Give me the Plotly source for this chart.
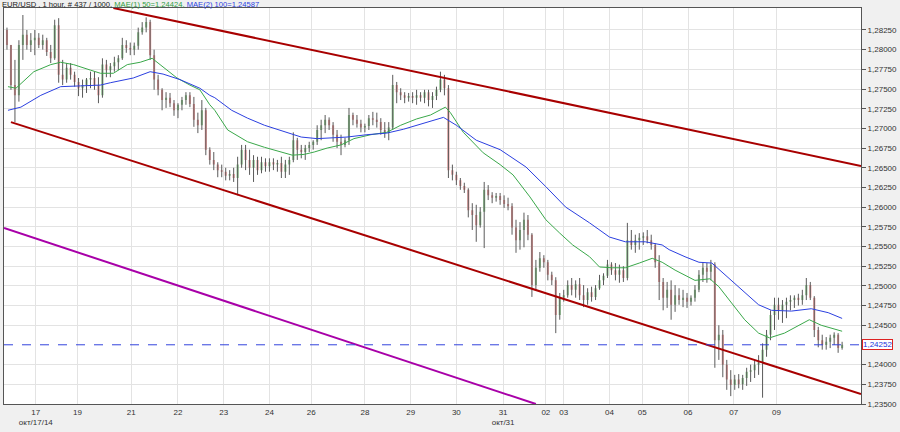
import plotly.graph_objects as go

# ---------------- data ----------------
opens = [1.2825, 1.2806, 1.2755, 1.2742, 1.2806, 1.2819, 1.2806, 1.2812, 1.2815, 1.2806,
         1.2812, 1.2797, 1.2789, 1.2831, 1.2768, 1.2762, 1.2777, 1.2768, 1.2759, 1.2751,
         1.2755, 1.2762, 1.2764, 1.2755, 1.2742, 1.2781, 1.2774, 1.2779, 1.2784, 1.2789,
         1.2806, 1.2802, 1.2800, 1.2805, 1.2822, 1.2828, 1.2835, 1.2793, 1.2762, 1.2749,
         1.2736, 1.2739, 1.2732, 1.2723, 1.2730, 1.2736, 1.2742, 1.2731, 1.2711, 1.2704,
         1.2723, 1.2673, 1.2660, 1.2654, 1.2647, 1.2645, 1.2640, 1.2642, 1.2637, 1.2654,
         1.2673, 1.2660, 1.2650, 1.2660, 1.2647, 1.2657, 1.2652, 1.2657, 1.2654, 1.2656,
         1.2645, 1.2654, 1.2660, 1.2685, 1.2673, 1.2670, 1.2675, 1.2679, 1.2683, 1.2698,
         1.2704, 1.2711, 1.2704, 1.2692, 1.2683, 1.2679, 1.2685, 1.2717, 1.2711, 1.2706,
         1.2701, 1.2703, 1.2713, 1.2711, 1.2708, 1.2698, 1.2694, 1.2701, 1.2755, 1.2746,
         1.2742, 1.2739, 1.2741, 1.2739, 1.2742, 1.2739, 1.2746, 1.2736, 1.2741, 1.2749,
         1.2762, 1.2751, 1.2647, 1.2641, 1.2634, 1.2627, 1.2622, 1.2596, 1.2590, 1.2577,
         1.2594, 1.2622, 1.2615, 1.2612, 1.2614, 1.2609, 1.2604, 1.2601, 1.2574, 1.2558,
         1.2571, 1.2584, 1.2565, 1.2501, 1.2523, 1.2535, 1.2530, 1.2514, 1.2507, 1.2463,
         1.2485, 1.2488, 1.2501, 1.2495, 1.2502, 1.2488, 1.2482, 1.2492, 1.2486, 1.2497,
         1.2507, 1.2513, 1.2527, 1.2520, 1.2514, 1.2520, 1.2510, 1.2558, 1.2552, 1.2558,
         1.2561, 1.2563, 1.2558, 1.2552, 1.2530, 1.2505, 1.2485, 1.2495, 1.2476, 1.2488,
         1.2482, 1.2485, 1.2480, 1.2485, 1.2495, 1.2514, 1.2523, 1.2518, 1.2527, 1.2431,
         1.2438, 1.2400, 1.2381, 1.2374, 1.2381, 1.2375, 1.2383, 1.2391, 1.2393, 1.2400,
         1.2403, 1.2419, 1.2438, 1.2463, 1.2476, 1.2469, 1.2476, 1.2480, 1.2482, 1.2485,
         1.2482, 1.2488, 1.2501, 1.2485, 1.2444, 1.2431, 1.2425, 1.2429, 1.2434, 1.2438, 1.2421]

highs = [1.2828, 1.2806, 1.2787, 1.2812, 1.2844, 1.2825, 1.2821, 1.2825, 1.2821, 1.2819,
         1.2815, 1.2806, 1.2838, 1.2840, 1.2787, 1.2783, 1.2783, 1.2772, 1.2764, 1.2762,
         1.2764, 1.2772, 1.2772, 1.2765, 1.2789, 1.2787, 1.2783, 1.2791, 1.2793, 1.2815,
         1.2812, 1.2809, 1.2809, 1.2828, 1.2835, 1.2841, 1.2838, 1.2800, 1.2768, 1.2751,
         1.2746, 1.2745, 1.2736, 1.2732, 1.2740, 1.2746, 1.2746, 1.2740, 1.2720, 1.2736,
         1.2726, 1.2676, 1.2670, 1.2657, 1.2654, 1.2650, 1.2647, 1.2650, 1.2664, 1.2679,
         1.2679, 1.2673, 1.2666, 1.2664, 1.2664, 1.2662, 1.2662, 1.2662, 1.2660, 1.2664,
         1.2660, 1.2664, 1.2695, 1.2688, 1.2679, 1.2679, 1.2683, 1.2685, 1.2704, 1.2711,
         1.2717, 1.2714, 1.2708, 1.2698, 1.2692, 1.2688, 1.2726, 1.2720, 1.2717, 1.2711,
         1.2706, 1.2717, 1.2721, 1.2720, 1.2713, 1.2708, 1.2708, 1.2768, 1.2759, 1.2751,
         1.2746, 1.2745, 1.2746, 1.2749, 1.2746, 1.2749, 1.2749, 1.2746, 1.2753, 1.2772,
         1.2768, 1.2755, 1.2654, 1.2645, 1.2637, 1.2631, 1.2624, 1.2605, 1.2603, 1.2600,
         1.2632, 1.2628, 1.2619, 1.2618, 1.2618, 1.2615, 1.2612, 1.2605, 1.2584, 1.2581,
         1.2593, 1.2590, 1.2567, 1.2533, 1.2543, 1.2539, 1.2533, 1.2518, 1.2511, 1.2491,
         1.2495, 1.2507, 1.2510, 1.2507, 1.2510, 1.2501, 1.2497, 1.2499, 1.2501, 1.2514,
         1.2516, 1.2533, 1.2530, 1.2529, 1.2527, 1.2525, 1.2580, 1.2571, 1.2565, 1.2567,
         1.2568, 1.2571, 1.2565, 1.2554, 1.2539, 1.2510, 1.2505, 1.2507, 1.2501, 1.2497,
         1.2495, 1.2491, 1.2488, 1.2501, 1.2520, 1.2530, 1.2529, 1.2533, 1.2530, 1.2450,
         1.2444, 1.2406, 1.2393, 1.2387, 1.2388, 1.2387, 1.2396, 1.2400, 1.2406, 1.2412,
         1.2427, 1.2444, 1.2469, 1.2485, 1.2485, 1.2482, 1.2485, 1.2488, 1.2488, 1.2490,
         1.2495, 1.2510, 1.2505, 1.2487, 1.2448, 1.2438, 1.2435, 1.2438, 1.2441, 1.2440, 1.2429]

lows = [1.2800, 1.2749, 1.2708, 1.2734, 1.2787, 1.2800, 1.2797, 1.2793, 1.2802, 1.2800,
        1.2792, 1.2783, 1.2787, 1.2758, 1.2755, 1.2758, 1.2762, 1.2753, 1.2741, 1.2739,
        1.2745, 1.2751, 1.2749, 1.2732, 1.2739, 1.2765, 1.2765, 1.2772, 1.2774, 1.2787,
        1.2796, 1.2793, 1.2793, 1.2800, 1.2819, 1.2822, 1.2787, 1.2749, 1.2742, 1.2723,
        1.2726, 1.2727, 1.2716, 1.2713, 1.2723, 1.2730, 1.2727, 1.2702, 1.2694, 1.2698,
        1.2666, 1.2654, 1.2647, 1.2638, 1.2638, 1.2634, 1.2634, 1.2632, 1.2615, 1.2650,
        1.2647, 1.2641, 1.2632, 1.2641, 1.2643, 1.2645, 1.2645, 1.2647, 1.2645, 1.2637,
        1.2637, 1.2641, 1.2657, 1.2660, 1.2662, 1.2660, 1.2670, 1.2673, 1.2679, 1.2685,
        1.2694, 1.2698, 1.2683, 1.2675, 1.2666, 1.2676, 1.2679, 1.2704, 1.2701, 1.2695,
        1.2695, 1.2698, 1.2704, 1.2701, 1.2692, 1.2688, 1.2685, 1.2698, 1.2732, 1.2736,
        1.2732, 1.2734, 1.2732, 1.2730, 1.2734, 1.2732, 1.2728, 1.2726, 1.2736, 1.2746,
        1.2742, 1.2637, 1.2634, 1.2628, 1.2622, 1.2618, 1.2587, 1.2571, 1.2556, 1.2574,
        1.2548, 1.2609, 1.2605, 1.2607, 1.2603, 1.2599, 1.2596, 1.2565, 1.2542, 1.2546,
        1.2549, 1.2558, 1.2486, 1.2495, 1.2518, 1.2523, 1.2507, 1.2501, 1.2440, 1.2457,
        1.2480, 1.2485, 1.2488, 1.2485, 1.2482, 1.2473, 1.2476, 1.2480, 1.2482, 1.2495,
        1.2501, 1.2510, 1.2514, 1.2507, 1.2504, 1.2505, 1.2507, 1.2546, 1.2542, 1.2546,
        1.2552, 1.2554, 1.2546, 1.2523, 1.2482, 1.2469, 1.2472, 1.2457, 1.2467, 1.2476,
        1.2473, 1.2472, 1.2475, 1.2480, 1.2492, 1.2505, 1.2504, 1.2507, 1.2396, 1.2406,
        1.2384, 1.2368, 1.2360, 1.2368, 1.2370, 1.2368, 1.2373, 1.2378, 1.2383, 1.2387,
        1.2358, 1.2410, 1.2431, 1.2444, 1.2457, 1.2453, 1.2459, 1.2469, 1.2472, 1.2475,
        1.2476, 1.2482, 1.2482, 1.2435, 1.2422, 1.2419, 1.2419, 1.2421, 1.2425, 1.2415, 1.2419]

closes = [1.2806, 1.2755, 1.2742, 1.2806, 1.2819, 1.2806, 1.2812, 1.2815, 1.2806, 1.2812,
          1.2797, 1.2789, 1.2831, 1.2768, 1.2762, 1.2777, 1.2768, 1.2759, 1.2751, 1.2755,
          1.2762, 1.2764, 1.2755, 1.2742, 1.2781, 1.2774, 1.2779, 1.2784, 1.2789, 1.2806,
          1.2802, 1.2800, 1.2805, 1.2822, 1.2828, 1.2835, 1.2793, 1.2762, 1.2749, 1.2736,
          1.2739, 1.2732, 1.2723, 1.2730, 1.2736, 1.2742, 1.2731, 1.2711, 1.2704, 1.2723,
          1.2673, 1.2660, 1.2654, 1.2647, 1.2645, 1.2640, 1.2642, 1.2637, 1.2654, 1.2673,
          1.2660, 1.2650, 1.2660, 1.2647, 1.2657, 1.2652, 1.2657, 1.2654, 1.2656, 1.2645,
          1.2654, 1.2660, 1.2685, 1.2673, 1.2670, 1.2675, 1.2679, 1.2683, 1.2698, 1.2704,
          1.2711, 1.2704, 1.2692, 1.2683, 1.2679, 1.2685, 1.2717, 1.2711, 1.2706, 1.2701,
          1.2703, 1.2713, 1.2711, 1.2708, 1.2698, 1.2694, 1.2701, 1.2755, 1.2746, 1.2742,
          1.2739, 1.2741, 1.2739, 1.2742, 1.2739, 1.2746, 1.2736, 1.2741, 1.2749, 1.2762,
          1.2751, 1.2647, 1.2641, 1.2634, 1.2627, 1.2622, 1.2596, 1.2590, 1.2577, 1.2594,
          1.2622, 1.2615, 1.2612, 1.2614, 1.2609, 1.2604, 1.2601, 1.2574, 1.2558, 1.2571,
          1.2584, 1.2565, 1.2501, 1.2523, 1.2535, 1.2530, 1.2514, 1.2507, 1.2463, 1.2485,
          1.2488, 1.2501, 1.2495, 1.2502, 1.2488, 1.2482, 1.2492, 1.2486, 1.2497, 1.2507,
          1.2513, 1.2527, 1.2520, 1.2514, 1.2520, 1.2510, 1.2558, 1.2552, 1.2558, 1.2561,
          1.2563, 1.2558, 1.2552, 1.2530, 1.2505, 1.2485, 1.2495, 1.2476, 1.2488, 1.2482,
          1.2485, 1.2480, 1.2485, 1.2495, 1.2514, 1.2523, 1.2518, 1.2527, 1.2431, 1.2438,
          1.2400, 1.2381, 1.2374, 1.2381, 1.2375, 1.2383, 1.2391, 1.2393, 1.2400, 1.2403,
          1.2419, 1.2438, 1.2463, 1.2476, 1.2469, 1.2476, 1.2480, 1.2482, 1.2485, 1.2482,
          1.2488, 1.2501, 1.2485, 1.2444, 1.2431, 1.2425, 1.2429, 1.2434, 1.2438, 1.2421, 1.24252]

bar_index = list(range(len(closes)))

# moving averages (bar position, value)
ma50_x = [0.25, 2.25, 6.75, 11, 13.5, 16.75, 21, 23.5, 26.75, 30.25, 33.5, 36.5, 38.5, 42.75,
          46, 48.5, 51, 52.25, 55.5, 60.5, 64.75, 69, 71.75, 74.75, 77.25, 80.5, 84, 87.25,
          91.5, 95.5, 99, 103, 106.5, 110.25, 111.5, 114.75, 119.75, 124, 127.25, 131.5,
          135.5, 139, 142.25, 146.5, 149, 152.25, 155.5, 159, 162.25, 164.75, 168, 173,
          176.75, 179, 182.25, 185.5, 189, 191.75, 195.5, 199, 201.75, 204.75, 210]
ma50_y = [1.2753, 1.2751, 1.2772, 1.2781, 1.2784, 1.2781, 1.2774, 1.2770, 1.2770, 1.2781,
          1.2784, 1.2789, 1.2781, 1.2764, 1.2755, 1.2749, 1.2730, 1.2723, 1.2698, 1.2683,
          1.2676, 1.2670, 1.2666, 1.2667, 1.2670, 1.2675, 1.2679, 1.2687, 1.2692, 1.2695,
          1.2704, 1.2712, 1.2717, 1.2727, 1.2720, 1.2695, 1.2669, 1.2654, 1.2641, 1.2613,
          1.2584, 1.2567, 1.2552, 1.2537, 1.2524, 1.2523, 1.2523, 1.2529, 1.2535, 1.2530,
          1.2520, 1.2507, 1.2509, 1.2499, 1.2478, 1.2457, 1.2440, 1.2434, 1.2440, 1.2450,
          1.2457, 1.2450, 1.24424]

ma100_x = [0.25, 3.5, 8.5, 13.5, 18.5, 23.5, 26, 31.75, 36, 39.25, 43.5, 48.5, 51, 52.25,
           56.5, 60.5, 64.75, 69, 74, 78, 81.5, 85.5, 90.5, 95.5, 99.75, 104.75, 109.75,
           113, 118, 124, 130.5, 135.5, 140.5, 146.5, 151.5, 155.5, 160.5, 164.75, 166.5,
           170.5, 174, 177.25, 180.5, 184.75, 189, 192.25, 197.25, 202.25, 206.5, 210]
ma100_y = [1.2723, 1.2727, 1.2742, 1.2753, 1.2754, 1.2755, 1.2758, 1.2764, 1.2772, 1.2769,
           1.2762, 1.2751, 1.2742, 1.2739, 1.2723, 1.2713, 1.2704, 1.2697, 1.2689, 1.2687,
           1.2688, 1.2689, 1.2692, 1.2694, 1.2699, 1.2707, 1.2714, 1.2704, 1.2685, 1.2673,
           1.2651, 1.2626, 1.2600, 1.2580, 1.2562, 1.2556, 1.2556, 1.2552, 1.2546, 1.2537,
           1.2530, 1.2529, 1.2514, 1.2495, 1.2476, 1.2469, 1.2468, 1.2471, 1.2466, 1.24587]

# trend lines (bar position, price)
upper_x, upper_y = [26.75, 214.75], [1.28529, 1.26523]
lower_x, lower_y = [1.0, 214.75], [1.27080, 1.23627]
purple_x, purple_y = [-0.75, 133.0], [1.25735, 1.23500]
last_price = 1.24252

# axis ticks
day_pos = [7.25, 17.75, 31.25, 43, 54.5, 66, 76.5, 90, 101.5, 113, 124.75, 135.5, 140,
           151.5, 159.75, 171.25, 182.75, 193.5]
day_labels = ["17<br>окт/17/14", "19", "21", "22", "23", "24", "26", "28", "29", "30",
              "31<br>окт/31", "02", "03", "04", "05", "06", "07", "09"]
price_ticks = [1.2350, 1.2375, 1.2400, 1.2450, 1.2475, 1.2500, 1.2525, 1.2550,
               1.2575, 1.2600, 1.2625, 1.2650, 1.2675, 1.2700, 1.2725, 1.2750, 1.2775,
               1.2800, 1.2825]
price_labels = [f"{v:.5f}".replace(".", ",") for v in price_ticks]

# ---------------- figure ----------------
FONT = "Liberation Sans, Arial, sans-serif"
fig = go.Figure()

wick_x, wick_y = [], []
for i, h, l in zip(bar_index, highs, lows):
    wick_x += [i, i, None]
    wick_y += [l, h, None]
fig.add_trace(go.Scatter(x=wick_x, y=wick_y, mode="lines",
                         line=dict(color="#5a5a5a", width=1), hoverinfo="skip"))

fig.add_trace(go.Candlestick(
    x=bar_index, open=opens, high=highs, low=lows, close=closes,
    increasing=dict(line=dict(color="#86c086", width=0), fillcolor="#86c086"),
    decreasing=dict(line=dict(color="#e49494", width=0), fillcolor="#e49494"),
    whiskerwidth=0))

fig.add_trace(go.Scatter(x=ma50_x, y=ma50_y, mode="lines",
                         line=dict(color="#3aa84a", width=1)))
fig.add_trace(go.Scatter(x=ma100_x, y=ma100_y, mode="lines",
                         line=dict(color="#2b3fe0", width=1)))

for xs, ys, col in [(upper_x, upper_y, "#a80000"), (lower_x, lower_y, "#a80000"),
                    (purple_x, purple_y, "#a800a8")]:
    fig.add_trace(go.Scatter(x=xs, y=ys, mode="lines", line=dict(color=col, width=2)))

fig.add_hline(y=last_price, line=dict(color="#3344dd", width=1, dash="dash"))

fig.add_annotation(xref="paper", x=1, y=last_price, yref="y", xanchor="left",
                   text=f"{last_price:.5f}".replace(".", ","), showarrow=False,
                   font=dict(family=FONT, size=8, color="#2233dd"),
                   bgcolor="white", bordercolor="#dd2222", borderwidth=1, borderpad=0,
                   xshift=1)

title_html = ("<span style='color:#202020'>EUR/USD , 1 hour, # 437 / 1000, </span>"
              "<span style='color:#2e9e3e'>MAE(1) 50=1,24424, </span>"
              "<span style='color:#2b3fe0'>MAE(2) 100=1,24587</span>")
fig.add_annotation(xref="paper", yref="paper", x=0, y=1, xanchor="left", yanchor="bottom",
                   text=title_html, showarrow=False, xshift=-3, yshift=-2,
                   font=dict(family=FONT, size=7.6), borderpad=0)

fig.update_layout(
    width=900, height=432,
    margin=dict(l=3, r=35, t=8, b=28),
    paper_bgcolor="#f0f0f0", plot_bgcolor="white",
    showlegend=False, boxgap=0.25,
    font=dict(family=FONT, size=8, color="#333333"),
    xaxis=dict(range=[-0.75, 214.75], tickmode="array", tickvals=day_pos,
               ticktext=day_labels, showgrid=True, gridcolor="#e3e3e3",
               zeroline=False, showline=True, linecolor="#555555", mirror=True,
               rangeslider=dict(visible=False), ticks="", fixedrange=True,
               tickfont=dict(family=FONT, size=8, color="#333333")),
    yaxis=dict(range=[1.2350, 1.28529], side="right", tickmode="array",
               tickvals=price_ticks, ticktext=price_labels, showgrid=True,
               gridcolor="#e3e3e3", zeroline=False, showline=True,
               linecolor="#555555", mirror=True, ticks="outside", ticklen=4,
               tickcolor="#555555",
               tickfont=dict(family=FONT, size=8, color="#333333")),
)

fig.write_html("out.html", config={"displayModeBar": False},
               post_script="document.body.style.margin='0';")
